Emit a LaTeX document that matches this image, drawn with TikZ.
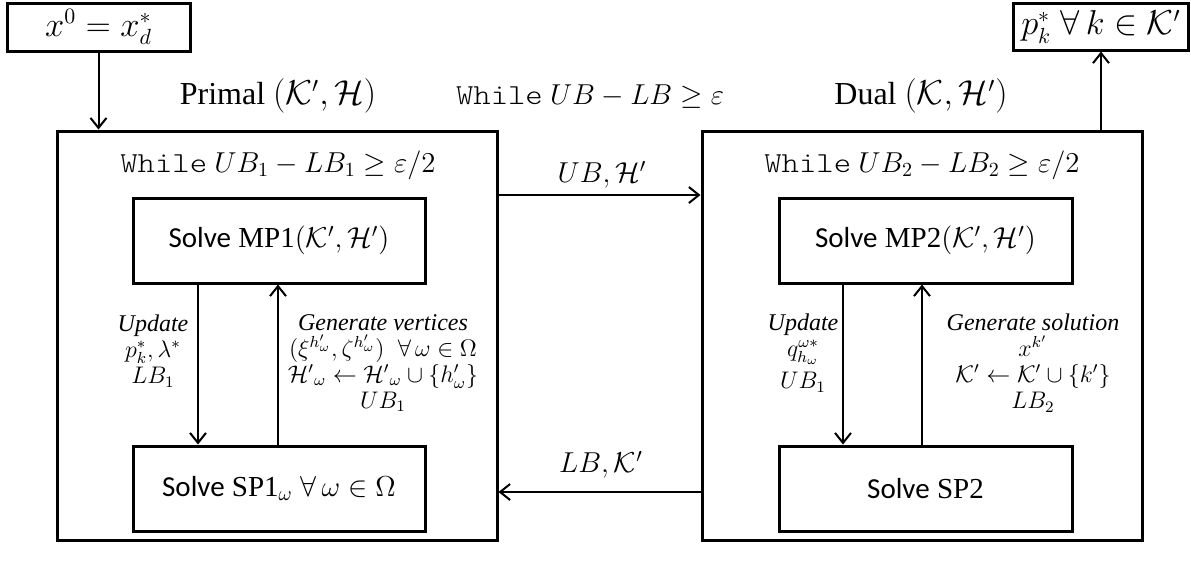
\documentclass[tikz,border=0pt]{standalone}
\usepackage{fontspec}
\setmainfont{Liberation Serif}
\newfontfamily\solvefont{Carlito}
\newfontfamily\whilefont{lmmonolt10-regular.otf}[FakeStretch=1.14]
\usetikzlibrary{arrows.meta}
\begin{document}
\begin{tikzpicture}[x=0.5pt,y=-0.5pt,
  font=\fontsize{14.5}{16}\selectfont,
  box/.style={draw, line width=1.5pt, inner sep=0pt, fill=white},
  arr/.style={line width=1pt, -{Straight Barb[length=5pt,width=8pt,line width=1pt]}},
  lbl/.style={align=center, inner sep=0pt, font=\fontsize{12}{13}\selectfont},
  top/.style={inner sep=0pt, font=\fontsize{16}{18}\selectfont}]
\useasboundingbox (0,0) rectangle (1191,564);

% outer boxes
\node[box, minimum width=220pt, minimum height=204.5pt] (bigL) at (277,335.5) {};
\node[box, minimum width=220pt, minimum height=204.5pt] (bigR) at (922,335.5) {};

% input / output boxes
\node[box, minimum width=91.5pt, minimum height=24pt, font=\fontsize{16}{18}\selectfont] (inp) at (98.5,27) {$x^0 = x_d^*$};
\node[box, minimum width=87.5pt, minimum height=23.5pt, font=\fontsize{16}{18}\selectfont] (out) at (1101,26.5) {$p_k^*\;\forall\, k \in \mathcal{K}'$};

% inner boxes
\node[box, minimum width=146pt, minimum height=42.5pt] (mp1) at (279,240.5) {{\solvefont Solve} $\mathrm{MP1}(\mathcal{K}',\mathcal{H}')$};
\node[box, minimum width=146pt, minimum height=42.5pt] (sp1) at (279,488.5) {{\solvefont Solve} $\mathrm{SP1}_\omega\;\forall\,\omega\in\Omega$};
\node[box, minimum width=146.5pt, minimum height=42.5pt] (mp2) at (925.5,240.5) {{\solvefont Solve} $\mathrm{MP2}(\mathcal{K}',\mathcal{H}')$};
\node[box, minimum width=146.5pt, minimum height=42.5pt] (sp2) at (925.5,488.5) {{\solvefont Solve} $\mathrm{SP2}$};

% titles
\node[top] (tprimal) at (278,96) {Primal $(\mathcal{K}',\mathcal{H})$};
\node[top] (tdual) at (921,96) {Dual $(\mathcal{K},\mathcal{H}')$};
\node[inner sep=0pt] (twhile) at (590,97) {{\whilefont While} $UB-LB\geq\varepsilon$};
\node[inner sep=0pt] (wL) at (278,165) {{\whilefont While} $UB_1-LB_1\geq\varepsilon/2$};
\node[inner sep=0pt] (wR) at (922,165) {{\whilefont While} $UB_2-LB_2\geq\varepsilon/2$};

% connectors
\draw[arr] (inp.south) -- (inp.south |- bigL.north);
\draw[arr] (out.south |- bigR.north) -- (out.south);
\draw[arr] (bigL.east |- 0,195) -- (bigR.west |- 0,195);
\draw[arr] (bigR.west |- 0,492) -- (bigL.east |- 0,492);
\draw[arr] (198,0 |- mp1.south) -- (198,0 |- sp1.north);
\draw[arr] (278,0 |- sp1.north) -- (278,0 |- mp1.south);
\draw[arr] (843,0 |- mp2.south) -- (843,0 |- sp2.north);
\draw[arr] (922,0 |- sp2.north) -- (922,0 |- mp2.south);

% connector labels
\node[inner sep=0pt] (lub) at (602,175) {$UB,\mathcal{H}'$};
\node[inner sep=0pt] (llb) at (601,465) {$LB,\mathcal{K}'$};

\node[lbl] (updL) at (153,351) {\textit{Update}\\ $p_k^*,\lambda^*$\\ $LB_1$};
\node[lbl] (genL) at (383,363) {\textit{Generate vertices}\\ $(\xi^{h'_\omega},\zeta^{h'_\omega})\;\;\forall\,\omega\in\Omega$\\ ${\mathcal{H}'}_\omega\leftarrow{\mathcal{H}'}_\omega\cup\{h'_\omega\}$\\ $UB_1$};
\node[lbl] (updR) at (803,353) {\textit{Update}\\ $q^{\omega*}_{h_\omega}$\\[3pt] $UB_1$};
\node[lbl] (genR) at (1033,363) {\textit{Generate solution}\\ $x^{k'}$\\ $\mathcal{K}'\leftarrow\mathcal{K}'\cup\{k'\}$\\ $LB_2$};
\end{tikzpicture}
\end{document}
